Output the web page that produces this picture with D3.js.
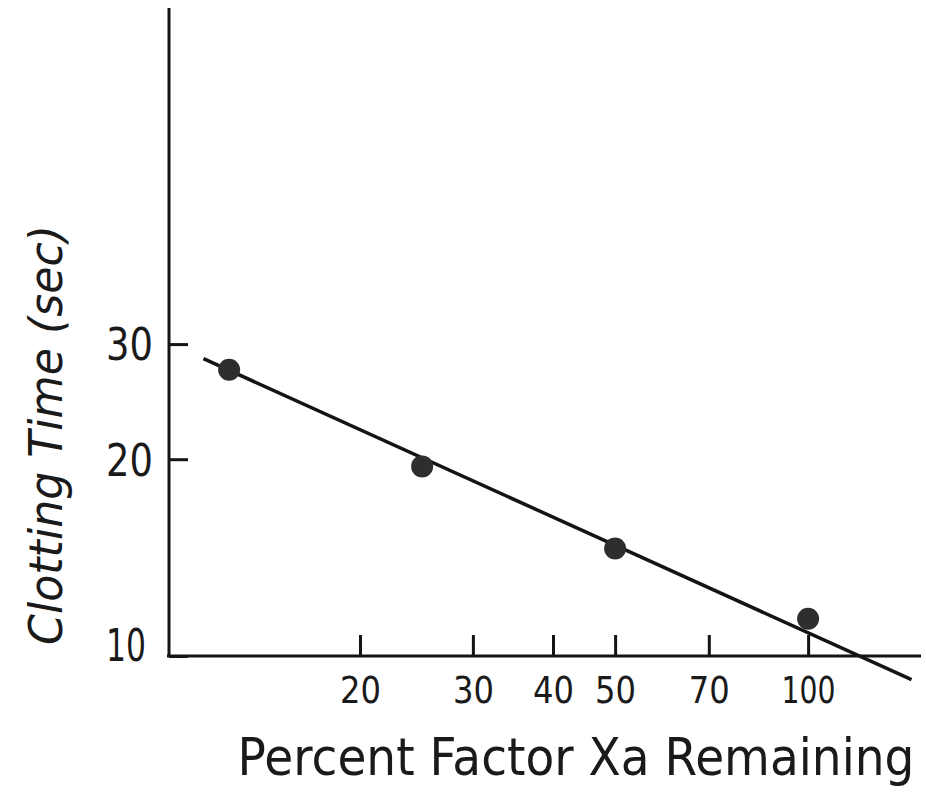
<!DOCTYPE html>
<html>
<head>
<meta charset="utf-8">
<script src="https://cdn.jsdelivr.net/npm/d3@7"></script>
<style>
  html, body { margin: 0; padding: 0; background: #fff; }
  svg { display: block; }
  text { font-family: "DejaVu Sans", sans-serif; fill: #1a1a1a; }
</style>
</head>
<body>
<svg id="chart" width="926" height="797"></svg>
<script>
// ---- data ----
const percentRemaining = [12.5, 25, 50, 100];
const clottingTime = [27.4, 19.5, 14.6, 11.4];
const fitLineX = [11.4, 145];
const fitLineY = [28.5, 9.2];
const xTickValues = [20, 30, 40, 50, 70, 100];
const yTickValues = [10, 20, 30];
const xTitle = "Percent Factor Xa Remaining";
const yTitle = "Clotting Time (sec)";

// ---- layout ----
const svg = d3.select("#chart");
const x = d3.scaleLog().domain([10, 150]).range([167, 921]);
const y = d3.scaleLog().domain([10, 98]).range([656, 8]);
const ink = "#141414";

// x axis
const gx = svg.append("g").attr("transform", `translate(0,${y(10)})`)
  .call(d3.axisBottom(x).tickValues(xTickValues).tickFormat(d3.format("d"))
    .tickSize(-21).tickSizeOuter(0).tickPadding(0));
gx.select(".domain").attr("stroke", ink).attr("stroke-width", 3)
  .attr("d", `M${x(10)},0H${x(150)}`);
gx.selectAll(".tick line").attr("stroke", ink).attr("stroke-width", 3);
gx.selectAll(".tick text")
  .attr("y", 47).attr("dy", 0)
  .attr("font-size", 37)
  .attr("textLength", d => d < 100 ? 41 : 54)
  .attr("lengthAdjust", "spacingAndGlyphs")
  .attr("fill", "#1a1a1a");

// y axis
const gy = svg.append("g").attr("transform", `translate(${x(10) + 2},0)`)
  .call(d3.axisLeft(y).tickValues(yTickValues).tickFormat(d3.format("d"))
    .tickSize(-19).tickSizeOuter(0).tickPadding(0));
gy.select(".domain").attr("stroke", ink).attr("stroke-width", 3)
  .attr("d", `M0,${y(98)}V${y(10)}`);
gy.selectAll(".tick line").attr("stroke", ink).attr("stroke-width", 3);
gy.selectAll(".tick text")
  .attr("x", -16).attr("dy", "0.36em")
  .attr("font-size", 44)
  .attr("textLength", d => d === 10 ? 40 : 47)
  .attr("lengthAdjust", "spacingAndGlyphs")
  .attr("fill", "#1a1a1a");
gy.selectAll(".tick").filter(d => d === 10).select("text").attr("y", -11).attr("x", -23);

// fitted line
const lineData = fitLineX.map((v, i) => [v, fitLineY[i]]);
svg.append("path")
  .datum(lineData)
  .attr("fill", "none")
  .attr("stroke", ink)
  .attr("stroke-width", 3.5)
  .attr("d", d3.line().x(d => x(d[0])).y(d => y(d[1])));

// points
svg.selectAll("circle.pt")
  .data(percentRemaining.map((v, i) => [v, clottingTime[i]]))
  .join("circle")
  .attr("class", "pt")
  .attr("cx", d => x(d[0]))
  .attr("cy", d => y(d[1]))
  .attr("r", 11)
  .attr("fill", "#2e2e2e");

// titles (horizontally scaled to fit the reference widths)
function fitText(sel, targetWidth, cx, cy, rotate) {
  const w = sel.node().getComputedTextLength();
  const sx = targetWidth / w;
  sel.attr("text-anchor", "middle")
     .attr("transform", `translate(${cx},${cy})${rotate ? " rotate(" + rotate + ")" : ""} scale(${sx},1)`);
}

const xt = svg.append("text")
  .attr("font-size", 51)
  .text(xTitle);
fitText(xt, 677, 576, 775, 0);

const yt = svg.append("text")
  .attr("font-size", 46)
  .attr("font-style", "italic")
  .text(yTitle);
fitText(yt, 420, 62, 435, -90);
</script>
</body>
</html>
